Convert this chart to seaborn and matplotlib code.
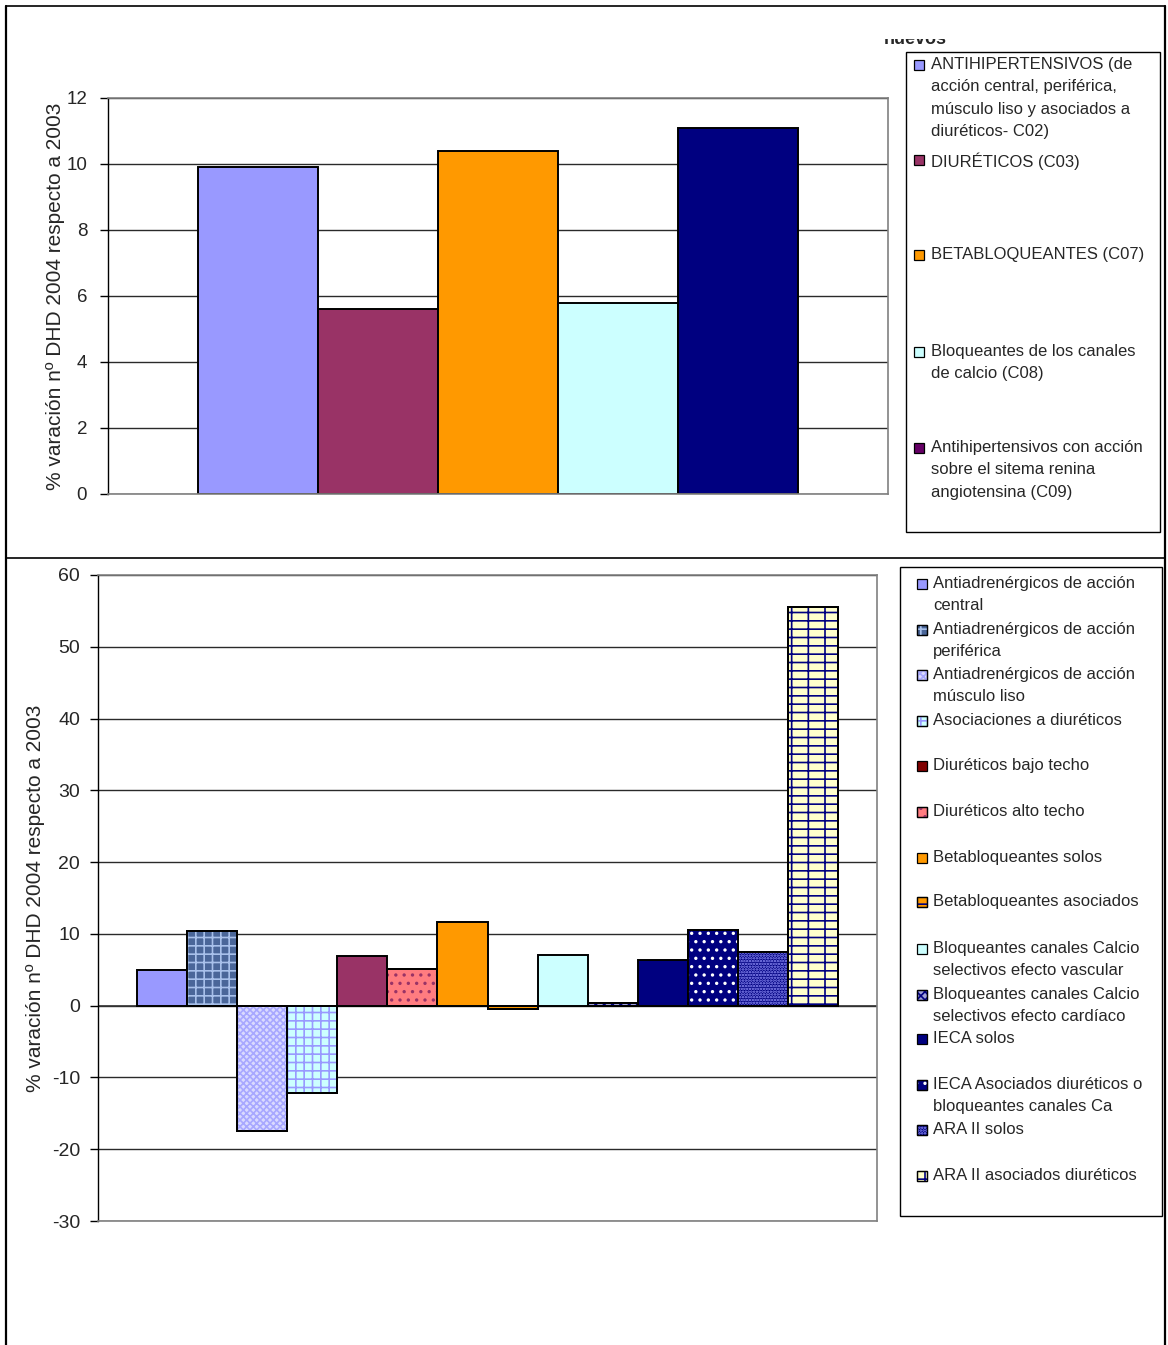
import matplotlib
matplotlib.use("Agg")
import matplotlib.pyplot as plt
import numpy as np
import pandas as pd
import seaborn as sns
from matplotlib.patches import Rectangle

# --- Grupos terapéuticos: % variación nº DHD 2004 respecto a 2003 ---
grupos = [
    "ANTIHIPERTENSIVOS (de\nacción central, periférica,\nmúsculo liso y asociados a\ndiuréticos- C02)",
    "DIURÉTICOS (C03)",
    "BETABLOQUEANTES (C07)",
    "Bloqueantes de los canales\nde calcio (C08)",
    "Antihipertensivos con acción\nsobre el sitema renina\nangiotensina (C09)",
]
var_grupos = [9.9, 5.6, 10.4, 5.8, 11.1]

# --- Subgrupos terapéuticos ---
subgrupos = [
    "Antiadrenérgicos de acción\ncentral",
    "Antiadrenérgicos de acción\nperiférica",
    "Antiadrenérgicos de acción\nmúsculo liso",
    "Asociaciones a diuréticos",
    "Diuréticos bajo techo",
    "Diuréticos alto techo",
    "Betabloqueantes solos",
    "Betabloqueantes asociados",
    "Bloqueantes canales Calcio\nselectivos efecto vascular",
    "Bloqueantes canales Calcio\nselectivos efecto cardíaco",
    "IECA solos",
    "IECA Asociados diuréticos o\nbloqueantes canales Ca",
    "ARA II solos",
    "ARA II asociados diuréticos",
]
var_subgrupos = [5.0, 10.4, -17.4, -12.1, 6.9, 5.1, 11.7, -0.5, 7.0, 0.4, 6.4, 10.6, 7.5, 55.6]

# Estilos de relleno
colores_grupos = ["#9999FF", "#993366", "#FF9900", "#CCFFFF", "#000080"]
leyenda_grupos = ["#9999FF", "#993366", "#FF9900", "#CCFFFF", "#660066"]

colores_sub = ["#9999FF", "#4A6699", "#DADAFF", "#CCFFFF", "#993366", "#FF7C80",
               "#FF9900", "#FF9900", "#CCFFFF", "#A0A0D8", "#000080", "#000080",
               "#000080", "#FFFFCC"]
leyenda_sub = ["#9999FF", "#4A6699", "#DADAFF", "#CCFFFF", "#800000", "#FF7C80",
               "#FF9900", "#FF9900", "#CCFFFF", "#A0A0D8", "#000080", "#000080",
               "#000080", "#FFFFCC"]
tramas_sub = ["", "++", "xxxxx", "++", "", "..", "", "--", "", "xxxx", "", "..", "......", "--|"]
color_trama_sub = [None, "#A8C0EA", "#A8A8FF", "#9999FF", None, "#993366", None, "#000080",
                   None, "#000080", None, "#FFFFFF", "#9999FF", "#000080"]

sns.set_style("white")
plt.rcParams["font.family"] = ["Liberation Sans", "DejaVu Sans"]
plt.rcParams["hatch.linewidth"] = 1.2
plt.rcParams["axes.unicode_minus"] = False

W, H = 1168, 1345
fig = plt.figure(figsize=(W / 100, H / 100), dpi=100)


def px_axes(x0, y0, x1, y1):
    return fig.add_axes([x0 / W, 1 - y1 / H, (x1 - x0) / W, (y1 - y0) / H])


def dibujar_barras(ax, etiquetas, valores, colores, ancho, tramas=None, colores_trama=None):
    claves = [f"s{i}" for i in range(len(etiquetas))]
    df = pd.DataFrame({"serie": claves, "valor": valores, "eje": [""] * len(valores)})
    sns.barplot(data=df, x="eje", y="valor", hue="serie", hue_order=claves,
                palette=colores, width=ancho, saturation=1, errorbar=None,
                legend=False, edgecolor="black", linewidth=1.4, ax=ax, zorder=2)
    if tramas:
        for p, trama, ct in zip(list(ax.patches), tramas, colores_trama):
            if trama:
                ax.add_patch(Rectangle(p.get_xy(), p.get_width(), p.get_height(),
                                       fill=False, hatch=trama, edgecolor=ct,
                                       linewidth=0, zorder=2.1))
                ax.add_patch(Rectangle(p.get_xy(), p.get_width(), p.get_height(),
                                       fill=False, edgecolor="black",
                                       linewidth=1.4, zorder=2.2))


def estilo(ax, lim, paso, fs, pad):
    ax.set_ylim(*lim)
    ax.set_xlim(-0.5, 0.5)
    ax.set_yticks(np.arange(lim[0], lim[1] + paso / 2, paso))
    ax.set_xticks([])
    ax.set_xlabel("")
    ax.yaxis.grid(True, color="#2a2a2a", linewidth=1.0)
    ax.set_axisbelow(True)
    for s in ["top", "bottom", "right"]:
        ax.spines[s].set_color("#808080")
        ax.spines[s].set_linewidth(1.2)
    ax.spines["left"].set_color("black")
    ax.spines["left"].set_linewidth(1.0)
    ax.tick_params(axis="y", left=True, direction="out", length=6, width=1,
                   color="black", labelsize=fs, pad=pad)


ylab = "% varación nº DHD 2004 respecto a 2003"

# Panel superior: grupos
ax1 = px_axes(108, 98, 888, 494)
dibujar_barras(ax1, grupos, var_grupos, colores_grupos, 0.77)
estilo(ax1, (0, 12), 2, 13.5, 9)
ax1.set_ylabel(ylab, fontsize=15)
ax1.yaxis.set_label_coords(-0.055, 0.5)

# Panel inferior: subgrupos
ax2 = px_axes(98, 575, 877, 1221)
dibujar_barras(ax2, subgrupos, var_subgrupos, colores_sub, 0.9, tramas_sub, color_trama_sub)
estilo(ax2, (-30, 60), 10, 14, 7)
ax2.axhline(0, color="#333333", linewidth=1.2, zorder=1.5)
ax2.set_ylabel(ylab, fontsize=15)
ax2.yaxis.set_label_coords(-0.068, 0.5)

# Capa de marcos y leyendas en píxeles
ov = fig.add_axes([0, 0, 1, 1], zorder=10)
ov.set_xlim(0, W)
ov.set_ylim(H, 0)
ov.axis("off")

ov.plot([5.5, 5.5], [5.5, H], color="black", lw=1.6)
ov.plot([5.5, 1165], [5.5, 5.5], color="black", lw=1.2)
ov.plot([1165, 1165], [5.5, H], color="black", lw=1.6)
ov.plot([5.5, 1165], [557.5, 557.5], color="black", lw=1.2)

# título recortado
ov.text(947, 44, "nuevos", ha="right", va="baseline", fontsize=13, fontweight="bold")
ov.add_patch(Rectangle((870, 8), 100, 31, facecolor="white", edgecolor="none", zorder=5))


def leyenda(caja, x_marca, x_texto, ys, etiquetas, colores, tramas=None, ctramas=None):
    x0, y0, x1, y1 = caja
    ov.add_patch(Rectangle((x0, y0), x1 - x0, y1 - y0, fill=False, edgecolor="black", lw=1.0, zorder=6))
    for i, (yc, lab, col) in enumerate(zip(ys, etiquetas, colores)):
        ov.add_patch(Rectangle((x_marca - 5, yc - 5), 10, 10, facecolor=col,
                               edgecolor="black", lw=0.9, zorder=6))
        if tramas and tramas[i]:
            ov.add_patch(Rectangle((x_marca - 5, yc - 5), 10, 10, fill=False,
                                   hatch=tramas[i], edgecolor=ctramas[i], lw=0, zorder=6.1))
            ov.add_patch(Rectangle((x_marca - 5, yc - 5), 10, 10, fill=False,
                                   edgecolor="black", lw=0.9, zorder=6.2))
        ov.text(x_texto, yc - 8, lab, ha="left", va="top", fontsize=12,
                linespacing=1.62, zorder=6)


leyenda((906, 52, 1160, 532), 919, 931, [65, 160, 255, 352, 448], grupos, leyenda_grupos)
leyenda((900, 567, 1162, 1216), 922, 933,
        [584, 630, 675, 721, 766, 812, 858, 902, 949, 995, 1039, 1085, 1130, 1176],
        subgrupos, leyenda_sub, tramas_sub, color_trama_sub)

fig.savefig("out.png", dpi=100)
